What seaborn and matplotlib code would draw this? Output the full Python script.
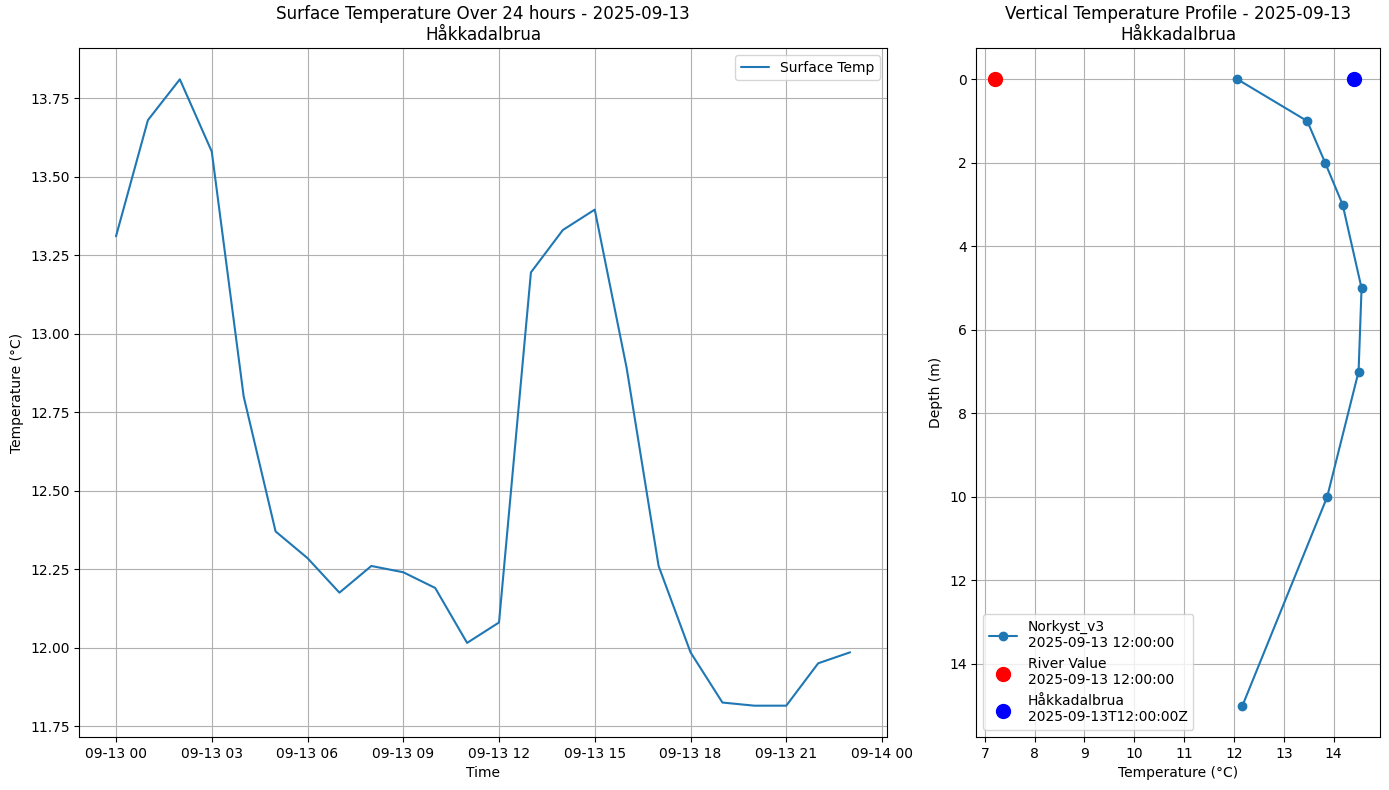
import numpy as np
import pandas as pd
import matplotlib
matplotlib.use("Agg")
import matplotlib.pyplot as plt
import seaborn as sns

# surface series, hourly
hours = pd.date_range("2025-09-13 00:00", periods=24, freq="h")
surface_temp = [13.31, 13.68, 13.81, 13.58, 12.80, 12.37, 12.285, 12.175, 12.26, 12.24,
                12.19, 12.015, 12.08, 13.195, 13.33, 13.395, 12.89, 12.26, 11.985, 11.825,
                11.815, 11.815, 11.95, 11.985]

# vertical profile
depths = [0, 1, 2, 3, 5, 7, 10, 15]
profile_temp = [12.07, 13.47, 13.83, 14.18, 14.56, 14.5, 13.87, 12.17]

river_temp = 7.2
station_temp = 14.4
surface_depth = 0

sns.set_style("ticks")
plt.rcParams["font.family"] = ["DejaVu Sans"]
plt.rcParams["font.size"] = 10.03
plt.rcParams["axes.edgecolor"] = "black"
plt.rcParams["xtick.color"] = "black"
plt.rcParams["ytick.color"] = "black"
plt.rcParams["axes.labelcolor"] = "black"
plt.rcParams["text.color"] = "black"
plt.rcParams["grid.color"] = "#b0b0b0"
plt.rcParams["grid.linewidth"] = 0.8

fig, (ax1, ax2) = plt.subplots(1, 2, figsize=(13.89, 7.9), dpi=100,
                               gridspec_kw={"width_ratios": [2, 1]})
ax1.set_position([79.3 / 1389, 1 - 737 / 790, 807.5 / 1389, 689 / 790])
ax2.set_position([976.4 / 1389, 1 - 737 / 790, 403.5 / 1389, 689 / 790])

df = pd.DataFrame({"time": hours, "temp": surface_temp})
sns.lineplot(data=df, x="time", y="temp", ax=ax1, label="Surface Temp", color="#1f77b4", errorbar=None)
ax1.set_title("Surface Temperature Over 24 hours - 2025-09-13\nHåkkadalbrua")
ax1.set_xlabel("Time")
ax1.set_ylabel("Temperature (°C)")
ax1.grid(True)
ax1.legend(loc="upper right")

ax2.plot(profile_temp, depths, marker="o", color="#1f77b4", label="Norkyst_v3\n2025-09-13 12:00:00")
ax2.scatter([river_temp], [surface_depth], color="red", s=100, zorder=3,
            label="River Value\n2025-09-13 12:00:00")
ax2.scatter([station_temp], [surface_depth], color="blue", s=100, zorder=3,
            label="Håkkadalbrua\n2025-09-13T12:00:00Z")
ax2.invert_yaxis()
ax2.set_title("Vertical Temperature Profile - 2025-09-13\nHåkkadalbrua")
ax2.set_xlabel("Temperature (°C)")
ax2.set_ylabel("Depth (m)")
ax2.grid(True)
ax2.legend(loc="lower left")

fig.savefig("out.png", dpi=100)
